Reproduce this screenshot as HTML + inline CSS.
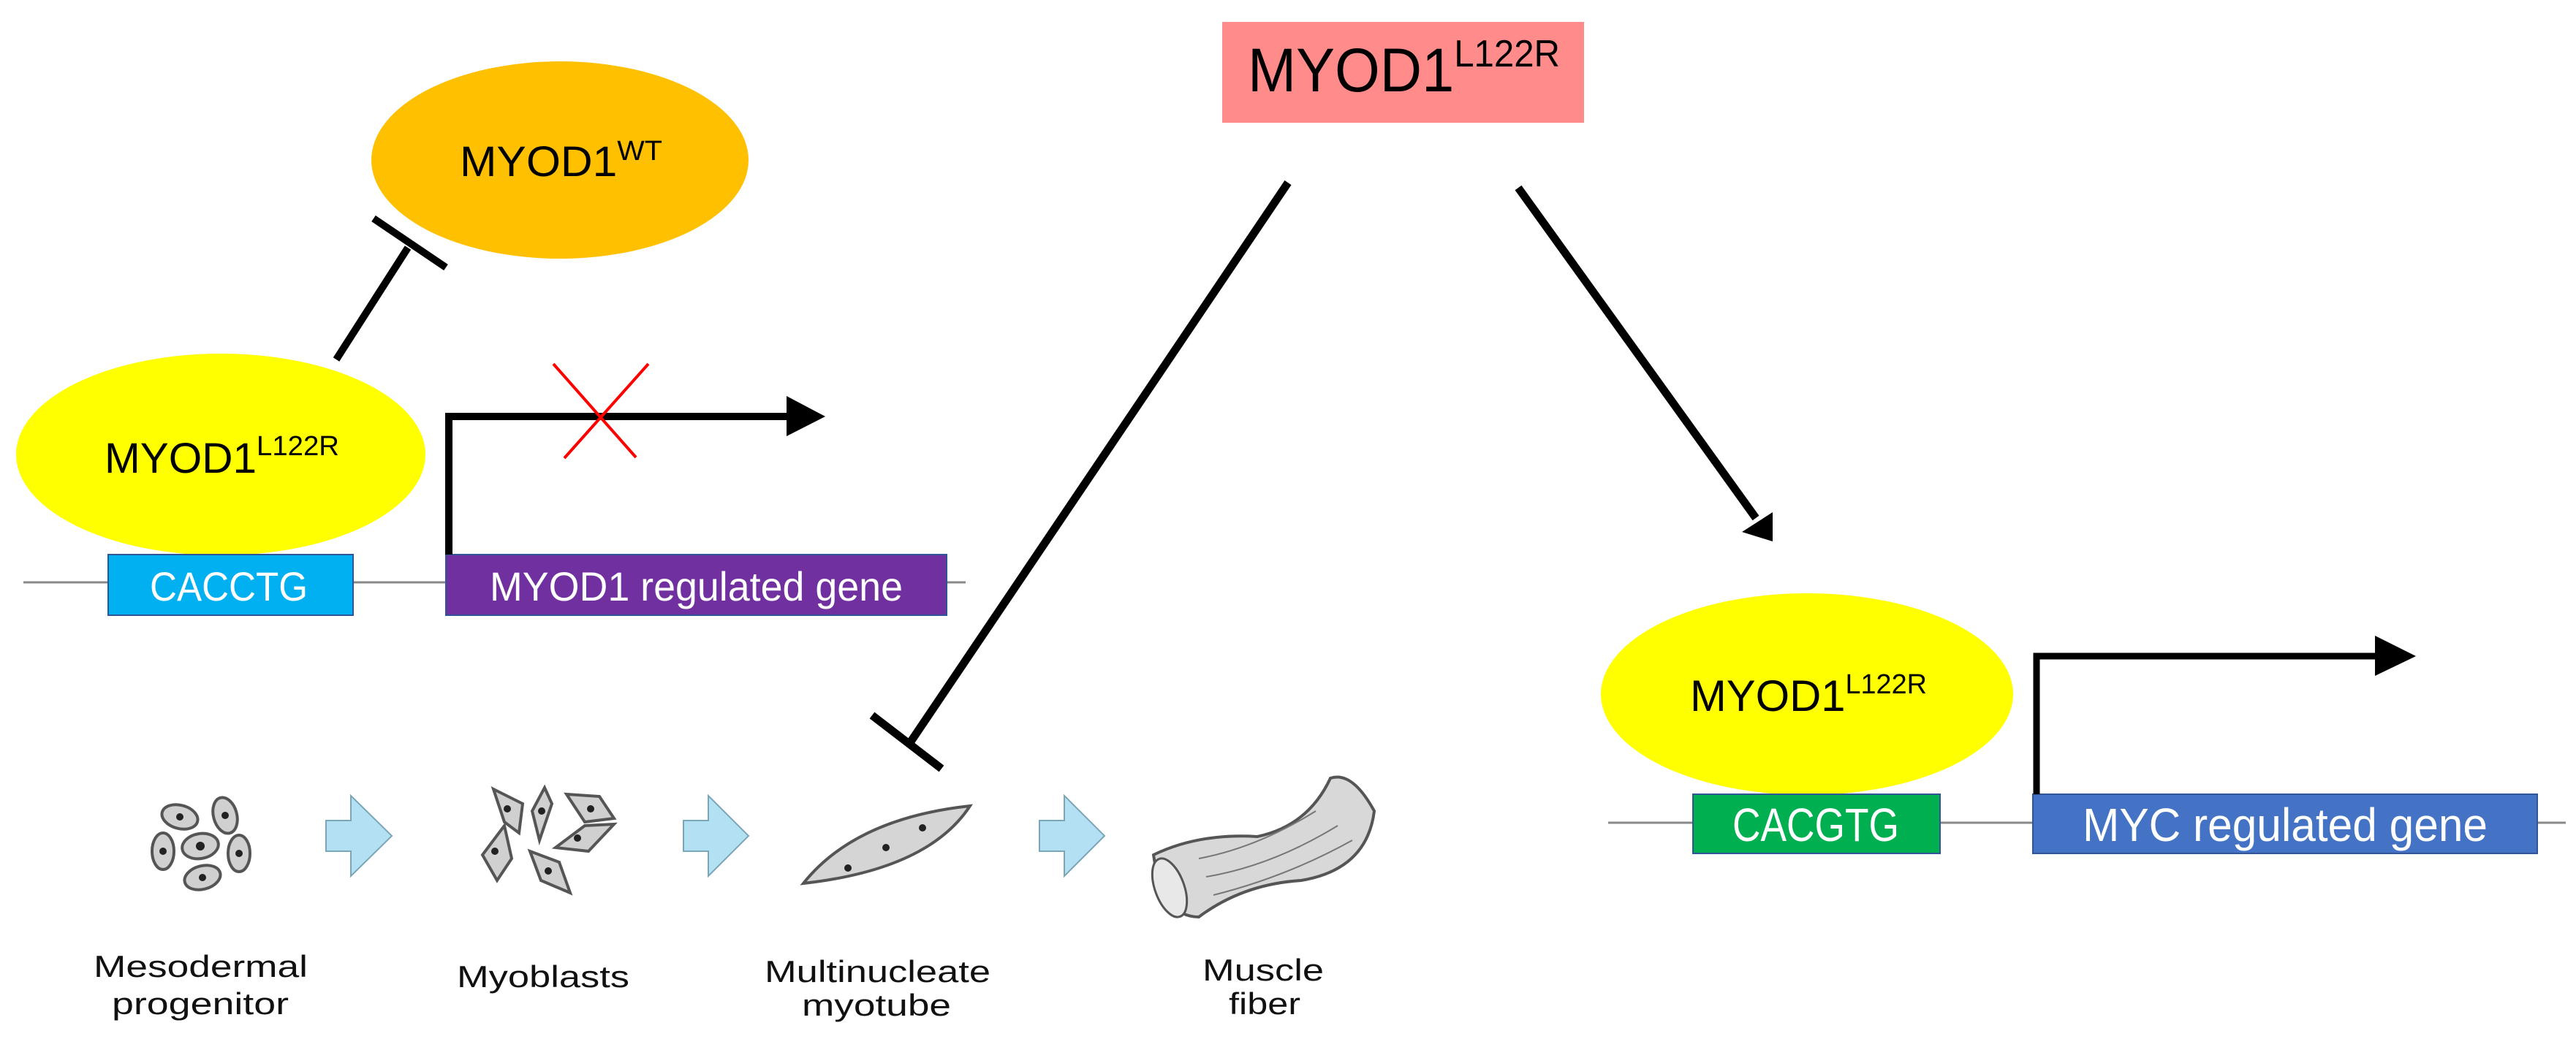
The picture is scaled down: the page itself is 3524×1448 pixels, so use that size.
<!DOCTYPE html>
<html><head><meta charset="utf-8"><style>
html,body{margin:0;padding:0;background:#fff;}
svg{display:block;}
.c{font-family:"Liberation Sans",sans-serif;}
</style></head><body>
<svg width="3524" height="1448" viewBox="0 0 3524 1448" xmlns="http://www.w3.org/2000/svg">
<rect width="3524" height="1448" fill="#fff"/>
<!-- Left DNA -->
<line x1="32" y1="797" x2="1321" y2="797" stroke="#888" stroke-width="3"/>
<ellipse cx="766" cy="219" rx="258" ry="135" fill="#ffc000"/>
<text class="c" x="629" y="241" font-size="58" textLength="277" lengthAdjust="spacingAndGlyphs">MYOD1<tspan font-size="38" dy="-22">WT</tspan></text>
<ellipse cx="302" cy="622" rx="280" ry="138" fill="#ffff00"/>
<text class="c" x="143" y="647" font-size="58" textLength="321" lengthAdjust="spacingAndGlyphs">MYOD1<tspan font-size="38" dy="-24">L122R</tspan></text>
<line x1="460" y1="492" x2="558" y2="339" stroke="#000" stroke-width="10"/>
<line x1="511" y1="299" x2="610" y2="366" stroke="#000" stroke-width="10"/>
<rect x="148" y="759" width="335" height="83" fill="#00b0f0" stroke="#2f5597" stroke-width="2"/>
<text class="c" x="205" y="822" font-size="56" fill="#fff" textLength="216" lengthAdjust="spacingAndGlyphs">CACCTG</text>
<rect x="610" y="759" width="685" height="83" fill="#7030a0" stroke="#2f5597" stroke-width="2"/>
<text class="c" x="670" y="822" font-size="56" fill="#fff" textLength="565" lengthAdjust="spacingAndGlyphs">MYOD1 regulated gene</text>
<polyline points="614,759 614,570 1080,570" fill="none" stroke="#000" stroke-width="10"/>
<polygon points="1076,542 1129,570 1076,597" fill="#000"/>
<line x1="757" y1="498" x2="870" y2="626" stroke="#f00" stroke-width="4"/>
<line x1="887" y1="498" x2="772" y2="627" stroke="#f00" stroke-width="4"/>
<!-- Top pink -->
<rect x="1672" y="30" width="495" height="138" fill="#ff8b8b"/>
<text class="c" x="1707" y="125" font-size="84" textLength="427" lengthAdjust="spacingAndGlyphs">MYOD1<tspan font-size="52" dy="-34">L122R</tspan></text>
<line x1="1762" y1="250" x2="1246" y2="1015" stroke="#000" stroke-width="11"/>
<line x1="1193" y1="979" x2="1288" y2="1052" stroke="#000" stroke-width="11"/>
<line x1="2077" y1="257" x2="2402" y2="709" stroke="#000" stroke-width="11"/>
<polygon points="2425,741 2383,728 2425,701" fill="#000"/>
<!-- Right DNA -->
<line x1="2200" y1="1126" x2="3510" y2="1126" stroke="#888" stroke-width="3"/>
<ellipse cx="2472" cy="950" rx="282" ry="138" fill="#ffff00"/>
<text class="c" x="2312" y="973" font-size="60" textLength="324" lengthAdjust="spacingAndGlyphs">MYOD1<tspan font-size="38" dy="-24">L122R</tspan></text>
<rect x="2316" y="1087" width="338" height="81" fill="#00b050" stroke="#2f5597" stroke-width="2"/>
<text class="c" x="2370" y="1151" font-size="64" fill="#fff" textLength="228" lengthAdjust="spacingAndGlyphs">CACGTG</text>
<rect x="2781" y="1087" width="690" height="81" fill="#4472c4" stroke="#2f5597" stroke-width="2"/>
<text class="c" x="2849" y="1151" font-size="64" fill="#fff" textLength="554" lengthAdjust="spacingAndGlyphs">MYC regulated gene</text>
<polyline points="2786,1087 2786,898 3252,898" fill="none" stroke="#000" stroke-width="9"/>
<polygon points="3249,870 3305,898 3249,925" fill="#000"/>
<!-- cells: mesodermal -->
<g fill="#d0d0d0" stroke="#555" stroke-width="4">
<ellipse cx="246" cy="1118" rx="25" ry="16" transform="rotate(15 246 1118)"/>
<ellipse cx="308" cy="1116" rx="16" ry="25" transform="rotate(-15 308 1116)"/>
<ellipse cx="223" cy="1165" rx="15" ry="25"/>
<ellipse cx="274" cy="1158" rx="25" ry="17" transform="rotate(-10 274 1158)"/>
<ellipse cx="327" cy="1168" rx="15" ry="25"/>
<ellipse cx="277" cy="1201" rx="25" ry="16" transform="rotate(-15 277 1201)"/>
</g>
<g fill="#222">
<circle cx="246" cy="1118" r="5"/><circle cx="308" cy="1116" r="5"/><circle cx="223" cy="1165" r="5"/><circle cx="274" cy="1158" r="6"/><circle cx="327" cy="1168" r="5"/><circle cx="277" cy="1201" r="5"/>
</g>
<!-- myoblasts -->
<g fill="#d0d0d0" stroke="#555" stroke-width="4">
<polygon points="675,1080 715,1100 710,1140 690,1125"/>
<polygon points="745,1078 755,1100 738,1150 728,1110"/>
<polygon points="775,1087 820,1090 840,1120 800,1125"/>
<polygon points="760,1160 800,1130 840,1128 805,1165"/>
<polygon points="690,1130 700,1175 680,1205 660,1170"/>
<polygon points="725,1165 765,1180 780,1222 740,1205"/>
</g>
<g fill="#222"><circle cx="694" cy="1107" r="5"/><circle cx="741" cy="1110" r="5"/><circle cx="808" cy="1107" r="5"/><circle cx="790" cy="1147" r="5"/><circle cx="677" cy="1165" r="5"/><circle cx="750" cy="1192" r="5"/></g>
<!-- myotube -->
<path d="M1099,1209 Q1170,1120 1327,1103 Q1270,1190 1099,1209 Z" fill="#d5d5d5" stroke="#555" stroke-width="4"/>
<g fill="#222"><circle cx="1160" cy="1188" r="5"/><circle cx="1212" cy="1160" r="5"/><circle cx="1262" cy="1133" r="5"/></g>
<!-- muscle fiber -->
<path d="M1578,1170 Q1640,1140 1720,1145 Q1790,1130 1820,1065 Q1850,1055 1880,1110 Q1870,1190 1780,1205 Q1700,1210 1640,1255 Q1590,1255 1578,1170 Z" fill="#d8d8d8" stroke="#555" stroke-width="4"/>
<ellipse cx="1600" cy="1215" rx="20" ry="42" fill="#e8e8e8" stroke="#555" stroke-width="3" transform="rotate(-20 1600 1215)"/>
<g stroke="#777" stroke-width="2" fill="none"><path d="M1640,1175 Q1720,1160 1800,1110"/><path d="M1650,1200 Q1740,1185 1830,1130"/><path d="M1660,1225 Q1760,1200 1850,1150"/></g>
<!-- blue arrows -->
<g fill="#b3e0f2" stroke="#7aa6b8" stroke-width="2">
<polygon points="446,1123 480,1123 480,1089 536,1144 480,1199 480,1165 446,1165"/>
<polygon points="935,1123 969,1123 969,1089 1024,1144 969,1199 969,1165 935,1165"/>
<polygon points="1422,1123 1456,1123 1456,1089 1511,1144 1456,1199 1456,1165 1422,1165"/>
</g>
<!-- labels -->
<g class="c" font-size="42" fill="#111">
<text x="128" y="1337" textLength="293" lengthAdjust="spacingAndGlyphs">Mesodermal</text>
<text x="153" y="1388" textLength="242" lengthAdjust="spacingAndGlyphs">progenitor</text>
<text x="625" y="1351" textLength="236" lengthAdjust="spacingAndGlyphs">Myoblasts</text>
<text x="1046" y="1344" textLength="309" lengthAdjust="spacingAndGlyphs">Multinucleate</text>
<text x="1097" y="1390" textLength="204" lengthAdjust="spacingAndGlyphs">myotube</text>
<text x="1645" y="1342" textLength="166" lengthAdjust="spacingAndGlyphs">Muscle</text>
<text x="1681" y="1388" textLength="98" lengthAdjust="spacingAndGlyphs">fiber</text>
</g>
</svg>
</body></html>
